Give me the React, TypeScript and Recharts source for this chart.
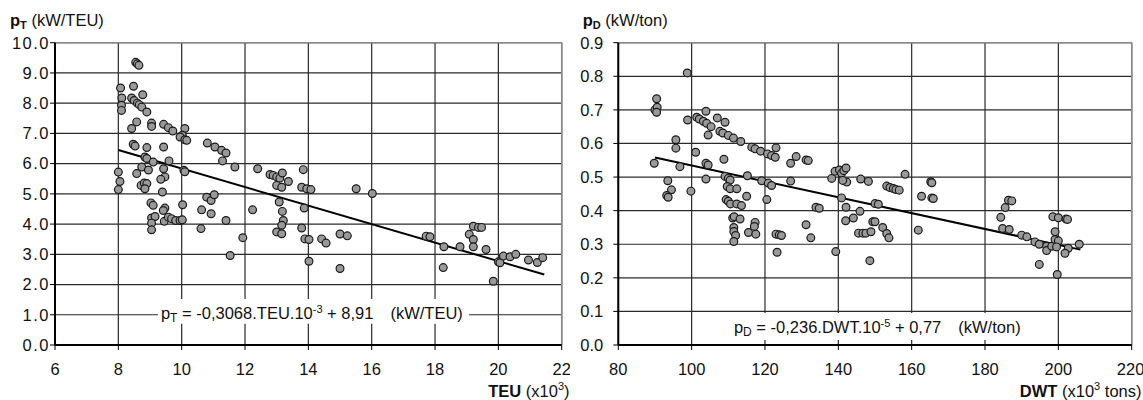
import React from 'react';
import { ScatterChart, Scatter, XAxis, YAxis, CartesianGrid, ReferenceLine, ReferenceArea } from 'recharts';

const FONT = '"Liberation Sans", Arial, sans-serif';

// Left panel: installed power per TEU vs TEU (x10^3)
const teuValues = [
  8.55, 8.6, 8.65, 8.07, 8.48, 8.11, 8.1, 8.1, 8.77, 8.42, 8.5, 8.6, 8.66, 8.74, 8.9,
  8.58, 8.42, 9.05, 9.05, 9.43, 9.58, 9.72, 10.1, 10.02, 9.95, 10.1, 10.16, 8.47, 8.53,
  8.9, 9.43, 8.84, 8.9, 9.1, 9.6, 8.74, 8.95, 8.58, 9.43, 9.47, 9.34, 10.07, 10.1,
  8.0, 8.05, 8.0, 8.72, 8.82, 8.9, 8.84, 9.39, 9.03, 9.1, 9.47, 9.42, 10.03,
  9.05, 9.16, 9.05, 9.05, 9.45, 9.58, 9.68, 9.81, 9.95, 10.02, 10.63, 10.61,
  10.79, 10.93, 11.03, 10.93, 10.81, 11.05, 11.26, 11.4, 11.29, 11.68, 11.4, 11.93,
  11.53, 12.4, 12.24, 12.79, 12.89, 13.0, 13.1, 13.18, 13.37, 13.0, 13.16, 13.84,
  13.79, 13.95, 14.08, 13.08, 13.18, 13.21, 13.16, 13.0, 13.16, 13.87, 13.79, 13.89,
  14.02, 14.42, 14.56, 14.02, 15.51, 16.02, 15.0, 15.23, 15.0, 17.72, 17.84, 18.28,
  18.26, 18.79, 19.21, 19.37, 19.47, 19.08, 19.21, 19.21, 19.61, 19.84, 20.0, 20.05,
  20.16, 20.37, 20.55, 20.95, 21.23, 21.4,
];
const teuPower = [
  9.35, 9.3, 9.25, 8.5, 8.56, 8.17, 7.93, 7.76, 8.28, 8.17, 8.09, 8.0, 7.95, 7.87, 7.71,
  7.38, 7.16, 7.34, 7.23, 7.3, 7.19, 7.08, 7.16, 6.94, 6.88, 6.79, 6.77, 6.64, 6.58,
  6.53, 6.55, 6.22, 6.17, 6.05, 6.09, 5.89, 5.79, 5.67, 5.83, 5.56, 5.48, 5.78, 5.73,
  5.72, 5.41, 5.14, 5.28, 5.36, 5.34, 5.17, 5.06, 4.7, 4.62, 4.53, 4.45, 4.64,
  4.2, 4.25, 4.03, 3.81, 4.09, 4.23, 4.18, 4.12, 4.12, 4.14, 4.47, 3.85,
  4.89, 4.78, 4.97, 4.34, 6.68, 6.55, 6.44, 6.35, 6.09, 5.89, 4.12, 3.55,
  2.96, 5.83, 4.47, 5.64, 5.61, 5.56, 5.52, 5.69, 5.41, 5.28, 5.22, 5.8,
  5.22, 5.17, 5.14, 4.73, 4.42, 4.12, 3.96, 3.74, 3.68, 4.53, 3.87, 3.51,
  3.49, 3.51, 3.37, 2.77, 5.17, 5.01, 3.67, 3.61, 2.53, 3.6, 3.58, 3.25,
  2.56, 3.25, 3.93, 3.89, 3.89, 3.66, 3.49, 3.25, 3.16, 2.11, 2.75, 2.72,
  2.94, 2.92, 3.0, 2.81, 2.73, 2.89,
];
const teuFitX = [8, 21.45];
const teuFitY = [6.45, 2.33];
const teuTicksX = [6, 8, 10, 12, 14, 16, 18, 20, 22];
const teuTicksY = [0, 1, 2, 3, 4, 5, 6, 7, 8, 9, 10];

// Right panel: installed power per ton vs DWT (x10^3 tons)
const dwtValues = [
  98.8, 90.45, 90.0, 90.6, 90.45, 89.8, 103.9, 101.4, 102.1, 103.2, 104.1, 105.3, 98.9,
  107.0, 109.1, 104.5, 107.7, 108.5, 110.0, 111.4, 113.4, 116.4, 117.3, 118.8, 120.7,
  121.8, 122.8, 123.0, 95.7, 95.7, 101.1, 108.8, 103.9, 104.5, 96.8, 93.5, 94.5, 93.2,
  93.6, 99.8, 103.9, 109.1, 110.0, 110.5, 109.7, 110.5, 112.3, 115.2, 115.0, 109.4,
  110.0, 110.6, 112.3, 113.6, 119.1, 120.9, 121.8, 120.5, 111.2, 111.6, 113.2, 111.5,
  111.5, 112.0, 111.5, 117.3, 117.1, 115.5, 117.5, 127.0, 128.5, 131.2, 131.8, 127.0,
  123.0, 123.9, 124.5, 123.3, 131.2, 132.5, 133.9, 134.8, 139.3, 138.2, 139.1, 140.3,
  140.9, 141.5, 142.1, 142.3, 141.2, 140.9, 142.1, 142.0, 144.1, 145.9, 146.1, 148.2,
  145.5, 146.7, 147.5, 148.6, 158.2, 153.2, 154.1, 155.0, 155.7, 156.6, 165.2, 165.5,
  162.7, 165.5, 165.9, 150.0, 150.9, 149.4, 150.0, 148.9, 152.1, 153.2, 153.8, 161.8,
  186.4, 187.3, 185.5, 184.3, 184.8, 186.6, 190.0, 191.4, 193.6, 194.8, 196.8, 196.8,
  198.2, 199.1, 200.0, 199.5, 199.1, 198.5, 200.0, 202.1, 202.5, 202.7, 201.8, 205.7,
  194.8, 199.7,
];
const dwtPower = [
  0.81, 0.733, 0.7, 0.708, 0.693, 0.541, 0.696, 0.678, 0.673, 0.666, 0.66, 0.65, 0.67,
  0.676, 0.663, 0.625, 0.636, 0.631, 0.624, 0.616, 0.606, 0.589, 0.584, 0.577, 0.569,
  0.564, 0.559, 0.587, 0.611, 0.586, 0.574, 0.553, 0.541, 0.536, 0.531, 0.489, 0.462, 0.445,
  0.44, 0.458, 0.494, 0.502, 0.496, 0.491, 0.472, 0.465, 0.465, 0.504, 0.443, 0.433,
  0.428, 0.42, 0.42, 0.415, 0.489, 0.482, 0.475, 0.433, 0.378, 0.382, 0.375, 0.35,
  0.338, 0.326, 0.308, 0.365, 0.353, 0.335, 0.33, 0.541, 0.561, 0.551, 0.549, 0.488,
  0.33, 0.328, 0.326, 0.276, 0.358, 0.319, 0.41, 0.407, 0.278, 0.496, 0.517, 0.521,
  0.511, 0.519, 0.527, 0.485, 0.49, 0.438, 0.41, 0.37, 0.378, 0.398, 0.494, 0.487,
  0.333, 0.333, 0.333, 0.251, 0.508, 0.473, 0.469, 0.466, 0.463, 0.461, 0.486, 0.483,
  0.443, 0.438, 0.436, 0.421, 0.419, 0.367, 0.367, 0.337, 0.35, 0.332, 0.319, 0.342,
  0.431, 0.429, 0.409, 0.38, 0.347, 0.344, 0.327, 0.322, 0.307, 0.3, 0.294, 0.281,
  0.294, 0.314, 0.31, 0.292, 0.337, 0.382, 0.379, 0.375, 0.374, 0.288, 0.273, 0.3,
  0.24, 0.21,
];
const dwtFitX = [90, 206];
const dwtFitY = [0.558, 0.284];
const dwtTicksX = [80, 100, 120, 140, 160, 180, 200, 220];
const dwtTicksY = [0, 0.1, 0.2, 0.3, 0.4, 0.5, 0.6, 0.7, 0.8, 0.9];

const teuData = teuValues.map((x, i) => ({ x, y: teuPower[i] }));
const dwtData = dwtValues.map((x, i) => ({ x, y: dwtPower[i] }));

const Dot = (p: any) => (
  <circle cx={p.cx} cy={p.cy} r={3.9} fill="#999999" stroke="#1a1a1a" strokeWidth={1.2} />
);

const FS = 16.5;
const tickStyle = { fill: '#111', fontSize: FS, fontFamily: FONT };
const leftYTickStyle = { fill: '#111', fontSize: FS, fontFamily: FONT, letterSpacing: 1.5 };
const GRID = '#2a2a2a';

const teuLabel = (props: any) => {
  const vb = props.viewBox || {};
  return (
    <text x={vb.x + 3} y={vb.y + 19.5} fontSize={FS} fontFamily={FONT} fill="#111">
      <tspan>p</tspan>
      <tspan fontSize={12} dy={3}>T</tspan>
      <tspan dy={-3}> = -0,3068.TEU.10</tspan>
      <tspan fontSize={11} dy={-6}>-3</tspan>
      <tspan dy={6}> + 8,91</tspan>
      <tspan dx={17}>(kW/TEU)</tspan>
    </text>
  );
};

const dwtLabel = (props: any) => {
  const vb = props.viewBox || {};
  return (
    <text x={vb.x + 3} y={vb.y + 19.5} fontSize={FS} fontFamily={FONT} fill="#111">
      <tspan>p</tspan>
      <tspan fontSize={12} dy={3}>D</tspan>
      <tspan dy={-3}> = -0,236.DWT.10</tspan>
      <tspan fontSize={11} dy={-6}>-5</tspan>
      <tspan dy={6}> + 0,77</tspan>
      <tspan dx={17}>(kW/ton)</tspan>
    </text>
  );
};

export default function App() {
  return (
    <div style={{ position: 'absolute', left: 0, top: 0, width: 1143, height: 400, background: '#fff', fontFamily: FONT }}>
      <div style={{ position: 'absolute', left: 0, top: 0 }}>
        <ScatterChart width={570} height={400} margin={{ top: 42.7, right: 8.3, bottom: 25, left: 0 }}>
          <CartesianGrid stroke={GRID} strokeWidth={1.2} />
          <ReferenceLine y={10} stroke="#8a8a8a" strokeWidth={1.5} />
          <ReferenceLine x={22} stroke="#8a8a8a" strokeWidth={1.5} />
          <XAxis type="number" dataKey="x" domain={[6, 22]} ticks={teuTicksX} tick={tickStyle}
            tickSize={5} tickMargin={13} height={30} axisLine={{ stroke: '#000', strokeWidth: 2 }}
            tickLine={{ stroke: '#000' }} allowDataOverflow />
          <YAxis type="number" dataKey="y" domain={[0, 10]} ticks={teuTicksY} tick={leftYTickStyle}
            tickFormatter={(v: number) => v.toFixed(1)} tickSize={5} tickMargin={0} width={55}
            axisLine={{ stroke: '#000', strokeWidth: 2 }} tickLine={{ stroke: '#000' }} allowDataOverflow />
          <ReferenceArea x1={9.25} x2={19.07} y1={0.7} y2={1.52} fill="#fff" fillOpacity={1} stroke="none" label={teuLabel} />
          <ReferenceLine segment={[{ x: teuFitX[0], y: teuFitY[0] }, { x: teuFitX[1], y: teuFitY[1] }]} stroke="#000" strokeWidth={2} />
          <Scatter data={teuData} shape={Dot} isAnimationActive={false} />
        </ScatterChart>
      </div>
      <div style={{ position: 'absolute', left: 570, top: 0 }}>
        <ScatterChart width={573} height={400} margin={{ top: 42.7, right: 11.3, bottom: 25, left: 0 }}>
          <CartesianGrid stroke={GRID} strokeWidth={1.2} />
          <ReferenceLine y={0.9} stroke="#8a8a8a" strokeWidth={1.5} />
          <ReferenceLine x={220} stroke="#8a8a8a" strokeWidth={1.5} />
          <XAxis type="number" dataKey="x" domain={[80, 220]} ticks={dwtTicksX} tick={tickStyle}
            tickSize={5} tickMargin={13} height={30} axisLine={{ stroke: '#000', strokeWidth: 2 }}
            tickLine={{ stroke: '#000' }} allowDataOverflow />
          <YAxis type="number" dataKey="y" domain={[0, 0.9]} ticks={dwtTicksY} tick={tickStyle}
            tickFormatter={(v: number) => v.toFixed(1)} tickSize={5} tickMargin={10} width={48.3}
            axisLine={{ stroke: '#000', strokeWidth: 2 }} tickLine={{ stroke: '#000' }} allowDataOverflow />
          <ReferenceArea x1={110.7} x2={191.7} y1={0.015} y2={0.095} fill="#fff" fillOpacity={1} stroke="none" label={dwtLabel} />
          <ReferenceLine segment={[{ x: dwtFitX[0], y: dwtFitY[0] }, { x: dwtFitX[1], y: dwtFitY[1] }]} stroke="#000" strokeWidth={2} />
          <Scatter data={dwtData} shape={Dot} isAnimationActive={false} />
        </ScatterChart>
      </div>
      <svg width={1143} height={400} style={{ position: 'absolute', left: 0, top: 0, pointerEvents: 'none' }}>
        <text x={10} y={25.5} fontSize={FS} fontFamily={FONT} fill="#111">
          <tspan fontWeight="bold">p</tspan>
          <tspan fontWeight="bold" fontSize={11} dy={3}>T</tspan>
          <tspan dy={-3}> (kW/TEU)</tspan>
        </text>
        <text x={582.7} y={25.5} fontSize={FS} fontFamily={FONT} fill="#111">
          <tspan fontWeight="bold">p</tspan>
          <tspan fontWeight="bold" fontSize={11} dy={3}>D</tspan>
          <tspan dy={-3}> (kW/ton)</tspan>
        </text>
        <text x={569.5} y={396.5} fontSize={FS} fontFamily={FONT} fill="#111" textAnchor="end">
          <tspan fontWeight="bold">TEU</tspan>
          <tspan> (x10</tspan>
          <tspan fontSize={11} dy={-7}>3</tspan>
          <tspan dy={7}>)</tspan>
        </text>
        <text x={1141.5} y={396.5} fontSize={FS} fontFamily={FONT} fill="#111" textAnchor="end">
          <tspan fontWeight="bold">DWT</tspan>
          <tspan> (x10</tspan>
          <tspan fontSize={11} dy={-7}>3</tspan>
          <tspan dy={7}> tons)</tspan>
        </text>
      </svg>
    </div>
  );
}
